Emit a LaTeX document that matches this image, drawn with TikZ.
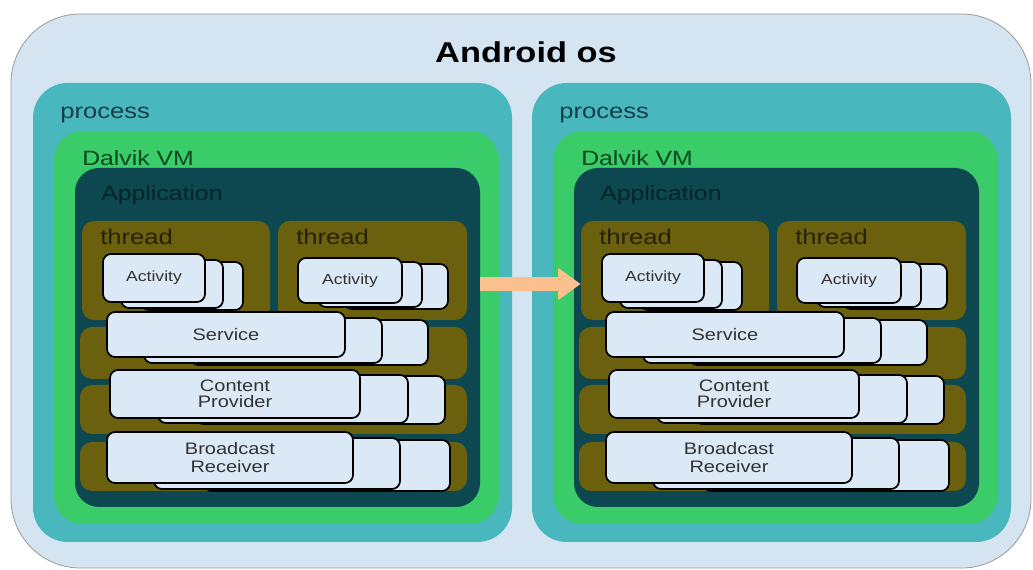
\documentclass[tikz,border=0pt]{standalone}
\usepackage{fontspec}
\setmainfont{Liberation Sans}[FakeStretch=1.2]
\usetikzlibrary{arrows.meta,fit}
\definecolor{osbg}{RGB}{212,229,241}
\definecolor{procc}{RGB}{72,183,190}
\definecolor{vmc}{RGB}{58,204,104}
\definecolor{appc}{RGB}{13,72,80}
\definecolor{thrc}{RGB}{106,96,14}
\definecolor{cardc}{RGB}{219,232,245}
\definecolor{arrc}{RGB}{250,193,142}
\definecolor{proctext}{RGB}{25,60,72}
\definecolor{vmtext}{RGB}{12,72,30}
\definecolor{apptext}{RGB}{6,36,40}
\definecolor{thrtext}{RGB}{38,34,6}
\tikzset{
  osbox/.style={fill=osbg,draw=gray!80,line width=0.6pt,rounded corners=52pt,inner sep=0pt},
  procbox/.style={fill=procc,rounded corners=26pt,inner sep=0pt},
  vmbox/.style={fill=vmc,rounded corners=22pt,inner sep=0pt},
  appbox/.style={fill=appc,rounded corners=18pt,inner sep=0pt},
  thrbox/.style={fill=thrc,rounded corners=9pt,inner sep=0pt},
  card/.style={fill=cardc,draw=black,line width=1.3pt,rounded corners=6pt,inner sep=0pt},
  cardtxt/.style={inner sep=0pt,align=center,text=black!80},
  lbl/.style={anchor=base west,inner sep=0pt},
  bigarrow/.style={draw=arrc,line width=11pt,-{Triangle[length=17pt,width=23pt]}},
}
\begin{document}
\begin{tikzpicture}[x=0.75pt,y=-0.75pt]
\useasboundingbox (0,0) rectangle (1033,570);
\node[osbox,fit={(11,14) (1031,568)}] (os) {};
\node[font=\bfseries\fontsize{21.5}{24}\selectfont,anchor=base,inner sep=0pt] (title) at (526,63) {Android os};
% two processes, same layout
\foreach \p/\dx in {l/0,r/499}{
  \node[procbox,fit={(\dx+33,83) (\dx+512,542)}] (\p proc) {};
  \node[vmbox,fit={(\dx+54,131) (\dx+499,524)}] (\p vm) {};
  \node[appbox,fit={(\dx+75,168) (\dx+480,507)}] (\p app) {};
  \node[thrbox,fit={(\dx+82,221) (\dx+270,320)}] (\p thA) {};
  \node[thrbox,fit={(\dx+278,221) (\dx+467,320)}] (\p thB) {};
  \foreach \b/\ya/\yb in {1/327/379,2/385/434,3/442/491}
    \node[thrbox,fit={(\dx+80,\ya) (\dx+467,\yb)}] (\p band\b) {};
  \node[lbl,text=proctext,font=\fontsize{16}{18}\selectfont] (\p proclbl) at (\dx+60,119) {process};
  \node[lbl,text=vmtext,font=\fontsize{15.5}{18}\selectfont] (\p vmlbl) at (\dx+82,166) {Dalvik VM};
  \node[lbl,text=apptext,font=\fontsize{15.5}{18}\selectfont] (\p applbl) at (\dx+101,201) {Application};
  \node[lbl,text=thrtext,font=\fontsize{16}{18}\selectfont] (\p thAlbl) at (\dx+100,245) {thread};
  \node[lbl,text=thrtext,font=\fontsize{16}{18}\selectfont] (\p thBlbl) at (\dx+296,245) {thread};
  % card stacks: back, middle, front
  \foreach \n/\xa/\ya/\xb/\yb/\ux/\uy/\vx/\vy/\s/\ls/\txt in {
      aa/103/254/205/302/18/6/38/8/11/12/Activity,
      ab/298/258/402/303/20/4/46/6/11/12/Activity,
      sv/107/312/345/357/37/6/83/8/12.5/13/Service,
      cp/110/370/360/418/48/5/85/6/12.5/12/{Content\\Provider},
      br/107/432/353/483/47/6/97/8/12.5/14/{Broadcast\\Receiver}}{
    \node[card,fit={(\dx+\xa+\vx,\ya+\vy) (\dx+\xb+\vx,\yb+\vy)}] (\p\n3) {};
    \node[card,fit={(\dx+\xa+\ux,\ya+\uy) (\dx+\xb+\ux,\yb+\uy)}] (\p\n2) {};
    \node[card,fit={(\dx+\xa,\ya) (\dx+\xb,\yb)}] (\p\n) {};
    \node[cardtxt,font=\fontsize{\s}{\ls}\selectfont] (\p\n txt) at (\p\n.center) {\txt};
  }
}
\coordinate (mid) at (0,284);
\draw[bigarrow] (lapp.east |- mid) -- (rthA.west |- mid);
\end{tikzpicture}
\end{document}
